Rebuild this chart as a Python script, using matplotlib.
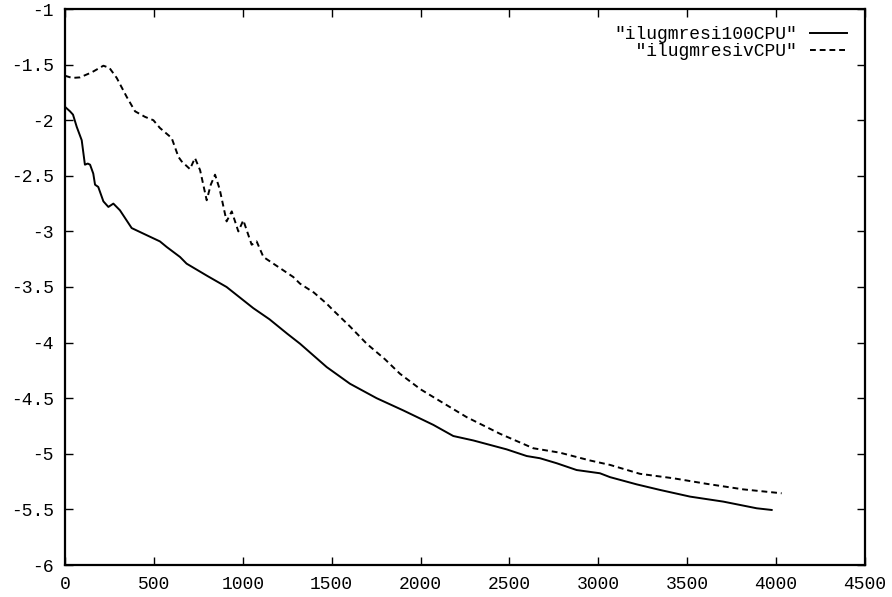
import matplotlib
matplotlib.use('Agg')
import matplotlib.pyplot as plt
from matplotlib.ticker import FixedLocator, FuncFormatter

# residual history
x_100cpu = [0, 28, 45, 66, 94, 112, 128, 141, 159, 169, 187, 216, 244, 272, 309,
            375, 441, 534, 572, 647, 684, 800, 909, 1059, 1150, 1250, 1322, 1472,
            1603, 1753, 1903, 2072, 2184, 2297, 2484, 2597, 2672, 2766, 2878, 3009,
            3066, 3216, 3347, 3516, 3703, 3891, 3975]
y_100cpu = [-1.88, -1.92, -1.95, -2.06, -2.18, -2.40, -2.39, -2.40, -2.48, -2.58,
            -2.60, -2.73, -2.78, -2.75, -2.81, -2.97, -3.02, -3.09, -3.14, -3.23,
            -3.29, -3.40, -3.50, -3.69, -3.79, -3.92, -4.01, -4.22, -4.37, -4.50,
            -4.61, -4.74, -4.84, -4.88, -4.96, -5.02, -5.04, -5.085, -5.146, -5.175,
            -5.21, -5.275, -5.325, -5.385, -5.43, -5.49, -5.505]

x_ivcpu = [0, 40, 84, 150, 216, 250, 291, 347, 394, 450, 497, 534, 600, 638, 656,
           703, 731, 760, 797, 820, 844, 870, 909, 938, 975, 1003, 1050, 1078, 1116,
           1200, 1284, 1322, 1400, 1472, 1509, 1600, 1697, 1800, 1884, 2000, 2072,
           2259, 2447, 2634, 2784, 2953, 3066, 3234, 3422, 3609, 3816, 4031]
y_ivcpu = [-1.60, -1.62, -1.615, -1.57, -1.51, -1.53, -1.62, -1.79, -1.92, -1.97,
           -2.00, -2.07, -2.16, -2.33, -2.37, -2.44, -2.34, -2.45, -2.72, -2.58,
           -2.49, -2.62, -2.91, -2.82, -3.00, -2.90, -3.12, -3.09, -3.23, -3.32,
           -3.41, -3.47, -3.55, -3.65, -3.71, -3.85, -4.01, -4.15, -4.28, -4.42,
           -4.49, -4.67, -4.82, -4.95, -4.99, -5.06, -5.10, -5.18, -5.22, -5.27,
           -5.32, -5.355]

x_ticks = [0, 500, 1000, 1500, 2000, 2500, 3000, 3500, 4000, 4500]
y_ticks = [-6, -5.5, -5, -4.5, -4, -3.5, -3, -2.5, -2, -1.5, -1]

label_100 = '"ilugmresi100CPU"'
label_iv = '  "ilugmresivCPU"'

plt.rcParams['font.family'] = ['Liberation Mono', 'DejaVu Sans Mono']
plt.rcParams['axes.unicode_minus'] = False

fig = plt.figure(figsize=(8.92, 5.97), dpi=100)
ax = fig.add_axes([65 / 892, 1 - 565 / 597, 800 / 892, 556 / 597])

ax.plot(x_100cpu, y_100cpu, color='black', lw=1.4, label=label_100)
ax.plot(x_ivcpu, y_ivcpu, color='black', lw=1.4, dashes=(3, 2), label=label_iv)

ax.set_xlim(0, 4500)
ax.set_ylim(-6, -1)
ax.xaxis.set_major_locator(FixedLocator(x_ticks))
ax.yaxis.set_major_locator(FixedLocator(y_ticks))
fmt = FuncFormatter(lambda v, p: '%g' % v)
ax.xaxis.set_major_formatter(fmt)
ax.yaxis.set_major_formatter(fmt)
ax.tick_params(direction='in', length=6, width=1, top=True, right=True,
               labelsize=13)
ax.tick_params(axis='x', pad=8)
ax.tick_params(axis='y', pad=8)
for s in ax.spines.values():
    s.set_linewidth(1.6)

ax.legend(loc='upper right', bbox_to_anchor=(1 - 18 / 800, 1 - 17 / 556),
          frameon=False, markerfirst=False, fontsize=13, handlelength=2.05,
          handletextpad=0.72, labelspacing=0.0, borderpad=0, borderaxespad=0)

fig.savefig('out.png', dpi=100)
